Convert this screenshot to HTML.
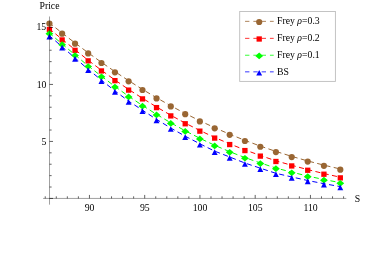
<!DOCTYPE html>
<html><head><meta charset="utf-8"><title>Price vs S</title>
<style>
html,body{margin:0;padding:0;background:#fff;}
svg{display:block;will-change:transform;}
text{font-family:"Liberation Serif",serif;font-size:9.75px;fill:#000;}
</style></head><body>
<svg width="382" height="259" viewBox="0 0 382 259">
<rect width="382" height="259" fill="#fff"/>
<polyline points="49.4,22.91 62.13,33.02 75.05,42.99 88.16,52.77 101.45,62.33 114.94,71.63 128.61,80.65 142.48,89.37 156.53,97.76 170.78,105.8 185.22,113.48 199.85,120.78 214.67,127.7 229.69,134.22 244.91,140.35 260.32,146.09 275.92,151.43 291.72,156.38 307.72,160.95 323.92,165.15 340.31,168.99" fill="none" stroke="#996633" stroke-width="1.0" stroke-dasharray="5.1 3.39" stroke-dashoffset="0.7"/>
<circle cx="49.4" cy="23.56" r="3.1" fill="#996633"/><circle cx="62.13" cy="33.67" r="3.1" fill="#996633"/><circle cx="75.05" cy="43.64" r="3.1" fill="#996633"/><circle cx="88.16" cy="53.42" r="3.1" fill="#996633"/><circle cx="101.45" cy="62.98" r="3.1" fill="#996633"/><circle cx="114.94" cy="72.28" r="3.1" fill="#996633"/><circle cx="128.61" cy="81.3" r="3.1" fill="#996633"/><circle cx="142.48" cy="90.02" r="3.1" fill="#996633"/><circle cx="156.53" cy="98.41" r="3.1" fill="#996633"/><circle cx="170.78" cy="106.45" r="3.1" fill="#996633"/><circle cx="185.22" cy="114.13" r="3.1" fill="#996633"/><circle cx="199.85" cy="121.43" r="3.1" fill="#996633"/><circle cx="214.67" cy="128.35" r="3.1" fill="#996633"/><circle cx="229.69" cy="134.87" r="3.1" fill="#996633"/><circle cx="244.91" cy="141" r="3.1" fill="#996633"/><circle cx="260.32" cy="146.74" r="3.1" fill="#996633"/><circle cx="275.92" cy="152.08" r="3.1" fill="#996633"/><circle cx="291.72" cy="157.03" r="3.1" fill="#996633"/><circle cx="307.72" cy="161.6" r="3.1" fill="#996633"/><circle cx="323.92" cy="165.8" r="3.1" fill="#996633"/><circle cx="340.31" cy="169.64" r="3.1" fill="#996633"/>
<polyline points="49.4,28.84 62.13,39.3 75.05,49.68 88.16,60.21 101.45,70.29 114.94,80 128.61,89.45 142.48,98.25 156.53,106.96 170.78,115.25 185.22,123.11 199.85,130.51 214.67,137.44 229.69,143.91 244.91,149.92 260.32,155.47 275.92,160.84 291.72,165.29 307.72,169.61 323.92,173.57 340.31,177.23" fill="none" stroke="#ff0000" stroke-width="1.0" stroke-dasharray="5.1 3.39" stroke-dashoffset="0.7"/>
<rect x="46.75" y="26.84" width="5.3" height="5.3" fill="#ff0000"/><rect x="59.48" y="37.3" width="5.3" height="5.3" fill="#ff0000"/><rect x="72.4" y="47.68" width="5.3" height="5.3" fill="#ff0000"/><rect x="85.51" y="58.21" width="5.3" height="5.3" fill="#ff0000"/><rect x="98.8" y="68.29" width="5.3" height="5.3" fill="#ff0000"/><rect x="112.29" y="78" width="5.3" height="5.3" fill="#ff0000"/><rect x="125.96" y="87.45" width="5.3" height="5.3" fill="#ff0000"/><rect x="139.83" y="96.25" width="5.3" height="5.3" fill="#ff0000"/><rect x="153.88" y="104.96" width="5.3" height="5.3" fill="#ff0000"/><rect x="168.13" y="113.25" width="5.3" height="5.3" fill="#ff0000"/><rect x="182.57" y="121.11" width="5.3" height="5.3" fill="#ff0000"/><rect x="197.2" y="128.51" width="5.3" height="5.3" fill="#ff0000"/><rect x="212.02" y="135.44" width="5.3" height="5.3" fill="#ff0000"/><rect x="227.04" y="141.91" width="5.3" height="5.3" fill="#ff0000"/><rect x="242.26" y="147.92" width="5.3" height="5.3" fill="#ff0000"/><rect x="257.67" y="153.47" width="5.3" height="5.3" fill="#ff0000"/><rect x="273.27" y="158.84" width="5.3" height="5.3" fill="#ff0000"/><rect x="289.07" y="163.29" width="5.3" height="5.3" fill="#ff0000"/><rect x="305.07" y="167.61" width="5.3" height="5.3" fill="#ff0000"/><rect x="321.27" y="171.57" width="5.3" height="5.3" fill="#ff0000"/><rect x="337.66" y="175.23" width="5.3" height="5.3" fill="#ff0000"/>
<polyline points="49.4,33.06 62.13,44 75.05,54.84 88.16,65.87 101.45,76.22 114.94,86.43 128.61,96.23 142.48,105.49 156.53,114.32 170.78,122.82 185.22,130.82 199.85,138.31 214.67,145.27 229.69,151.7 244.91,157.59 260.32,162.95 275.92,168.05 291.72,172.16 307.72,176.06 323.92,179.54 340.31,182.64" fill="none" stroke="#00ff00" stroke-width="1.0" stroke-dasharray="5.1 3.39" stroke-dashoffset="0.7"/>
<path d="M45.5 33.71L49.4 30.36L53.3 33.71L49.4 37.06Z" fill="#00ff00"/><path d="M58.23 44.65L62.13 41.3L66.03 44.65L62.13 48Z" fill="#00ff00"/><path d="M71.15 55.49L75.05 52.14L78.95 55.49L75.05 58.84Z" fill="#00ff00"/><path d="M84.26 66.52L88.16 63.17L92.06 66.52L88.16 69.87Z" fill="#00ff00"/><path d="M97.55 76.87L101.45 73.52L105.35 76.87L101.45 80.22Z" fill="#00ff00"/><path d="M111.04 87.08L114.94 83.73L118.84 87.08L114.94 90.43Z" fill="#00ff00"/><path d="M124.71 96.88L128.61 93.53L132.51 96.88L128.61 100.23Z" fill="#00ff00"/><path d="M138.58 106.14L142.48 102.79L146.38 106.14L142.48 109.49Z" fill="#00ff00"/><path d="M152.63 114.97L156.53 111.62L160.43 114.97L156.53 118.32Z" fill="#00ff00"/><path d="M166.88 123.47L170.78 120.12L174.68 123.47L170.78 126.82Z" fill="#00ff00"/><path d="M181.32 131.47L185.22 128.12L189.12 131.47L185.22 134.82Z" fill="#00ff00"/><path d="M195.95 138.96L199.85 135.61L203.75 138.96L199.85 142.31Z" fill="#00ff00"/><path d="M210.77 145.92L214.67 142.57L218.57 145.92L214.67 149.27Z" fill="#00ff00"/><path d="M225.79 152.35L229.69 149L233.59 152.35L229.69 155.7Z" fill="#00ff00"/><path d="M241.01 158.24L244.91 154.89L248.81 158.24L244.91 161.59Z" fill="#00ff00"/><path d="M256.42 163.6L260.32 160.25L264.22 163.6L260.32 166.95Z" fill="#00ff00"/><path d="M272.02 168.7L275.92 165.35L279.82 168.7L275.92 172.05Z" fill="#00ff00"/><path d="M287.82 172.81L291.72 169.46L295.62 172.81L291.72 176.16Z" fill="#00ff00"/><path d="M303.82 176.71L307.72 173.36L311.62 176.71L307.72 180.06Z" fill="#00ff00"/><path d="M320.02 180.19L323.92 176.84L327.82 180.19L323.92 183.54Z" fill="#00ff00"/><path d="M336.41 183.29L340.31 179.94L344.21 183.29L340.31 186.64Z" fill="#00ff00"/>
<polyline points="49.4,35.63 62.13,46.77 75.05,58.01 88.16,69.29 101.45,80.18 114.94,90.91 128.61,101.1 142.48,110.21 156.53,119.39 170.78,128.03 185.22,136.2 199.85,143.78 214.67,151.14 229.69,156.99 244.91,163.03 260.32,168.19 275.92,173.31 291.72,176.96 307.72,180.5 323.92,183.7 340.31,186.6" fill="none" stroke="#0000ff" stroke-width="1.0" stroke-dasharray="5.1 3.39" stroke-dashoffset="0.7"/>
<path d="M46.45 39.38L49.4 33.73L52.35 39.38Z" fill="#0000ff"/><path d="M59.18 50.52L62.13 44.87L65.08 50.52Z" fill="#0000ff"/><path d="M72.1 61.76L75.05 56.11L78 61.76Z" fill="#0000ff"/><path d="M85.21 73.04L88.16 67.39L91.11 73.04Z" fill="#0000ff"/><path d="M98.5 83.93L101.45 78.28L104.4 83.93Z" fill="#0000ff"/><path d="M111.99 94.66L114.94 89.01L117.89 94.66Z" fill="#0000ff"/><path d="M125.66 104.85L128.61 99.2L131.56 104.85Z" fill="#0000ff"/><path d="M139.53 113.96L142.48 108.31L145.43 113.96Z" fill="#0000ff"/><path d="M153.58 123.14L156.53 117.49L159.48 123.14Z" fill="#0000ff"/><path d="M167.83 131.78L170.78 126.13L173.73 131.78Z" fill="#0000ff"/><path d="M182.27 139.95L185.22 134.3L188.17 139.95Z" fill="#0000ff"/><path d="M196.9 147.53L199.85 141.88L202.8 147.53Z" fill="#0000ff"/><path d="M211.72 154.89L214.67 149.24L217.62 154.89Z" fill="#0000ff"/><path d="M226.74 160.74L229.69 155.09L232.64 160.74Z" fill="#0000ff"/><path d="M241.96 166.78L244.91 161.13L247.86 166.78Z" fill="#0000ff"/><path d="M257.37 171.94L260.32 166.29L263.27 171.94Z" fill="#0000ff"/><path d="M272.97 177.06L275.92 171.41L278.87 177.06Z" fill="#0000ff"/><path d="M288.77 180.71L291.72 175.06L294.67 180.71Z" fill="#0000ff"/><path d="M304.77 184.25L307.72 178.6L310.67 184.25Z" fill="#0000ff"/><path d="M320.97 187.45L323.92 181.8L326.87 187.45Z" fill="#0000ff"/><path d="M337.36 190.35L340.31 184.7L343.26 190.35Z" fill="#0000ff"/>
<g stroke="#000" stroke-width="0.38" fill="none"><line x1="43.1" y1="198.43" x2="346.3" y2="198.43"/><line x1="49.52" y1="16.5" x2="49.52" y2="204.65"/></g>
<g stroke="#000" stroke-width="0.62" fill="none"><line x1="45.24" y1="198.43" x2="45.24" y2="196.33"/><line x1="56.29" y1="198.43" x2="56.29" y2="196.33"/><line x1="67.34" y1="198.43" x2="67.34" y2="196.33"/><line x1="78.39" y1="198.43" x2="78.39" y2="196.33"/><line x1="89.44" y1="198.43" x2="89.44" y2="194.93"/><line x1="100.49" y1="198.43" x2="100.49" y2="196.33"/><line x1="111.54" y1="198.43" x2="111.54" y2="196.33"/><line x1="122.59" y1="198.43" x2="122.59" y2="196.33"/><line x1="133.64" y1="198.43" x2="133.64" y2="196.33"/><line x1="144.69" y1="198.43" x2="144.69" y2="194.93"/><line x1="155.74" y1="198.43" x2="155.74" y2="196.33"/><line x1="166.79" y1="198.43" x2="166.79" y2="196.33"/><line x1="177.84" y1="198.43" x2="177.84" y2="196.33"/><line x1="188.89" y1="198.43" x2="188.89" y2="196.33"/><line x1="199.94" y1="198.43" x2="199.94" y2="194.93"/><line x1="210.99" y1="198.43" x2="210.99" y2="196.33"/><line x1="222.04" y1="198.43" x2="222.04" y2="196.33"/><line x1="233.09" y1="198.43" x2="233.09" y2="196.33"/><line x1="244.14" y1="198.43" x2="244.14" y2="196.33"/><line x1="255.19" y1="198.43" x2="255.19" y2="194.93"/><line x1="266.24" y1="198.43" x2="266.24" y2="196.33"/><line x1="277.29" y1="198.43" x2="277.29" y2="196.33"/><line x1="288.34" y1="198.43" x2="288.34" y2="196.33"/><line x1="299.39" y1="198.43" x2="299.39" y2="196.33"/><line x1="310.44" y1="198.43" x2="310.44" y2="194.93"/><line x1="321.49" y1="198.43" x2="321.49" y2="196.33"/><line x1="332.54" y1="198.43" x2="332.54" y2="196.33"/><line x1="343.59" y1="198.43" x2="343.59" y2="196.33"/><line x1="49.52" y1="198.43" x2="53.02" y2="198.43"/><line x1="49.52" y1="187.03" x2="51.62" y2="187.03"/><line x1="49.52" y1="175.63" x2="51.62" y2="175.63"/><line x1="49.52" y1="164.23" x2="51.62" y2="164.23"/><line x1="49.52" y1="152.83" x2="51.62" y2="152.83"/><line x1="49.52" y1="141.43" x2="53.02" y2="141.43"/><line x1="49.52" y1="130.03" x2="51.62" y2="130.03"/><line x1="49.52" y1="118.63" x2="51.62" y2="118.63"/><line x1="49.52" y1="107.23" x2="51.62" y2="107.23"/><line x1="49.52" y1="95.83" x2="51.62" y2="95.83"/><line x1="49.52" y1="84.43" x2="53.02" y2="84.43"/><line x1="49.52" y1="73.03" x2="51.62" y2="73.03"/><line x1="49.52" y1="61.63" x2="51.62" y2="61.63"/><line x1="49.52" y1="50.23" x2="51.62" y2="50.23"/><line x1="49.52" y1="38.83" x2="51.62" y2="38.83"/><line x1="49.52" y1="27.43" x2="53.02" y2="27.43"/></g>
<text x="89.54" y="210.6" text-anchor="middle">90</text><text x="144.79" y="210.6" text-anchor="middle">95</text><text x="200.04" y="210.6" text-anchor="middle">100</text><text x="255.29" y="210.6" text-anchor="middle">105</text><text x="310.54" y="210.6" text-anchor="middle">110</text><text x="46.4" y="144.63" text-anchor="end">5</text><text x="46.4" y="87.63" text-anchor="end">10</text><text x="46.15" y="30.03" text-anchor="end">15</text><text x="49.5" y="8.7" text-anchor="middle">Price</text><text x="354.85" y="201.8">S</text>
<rect x="239.7" y="11.45" width="95.7" height="69.95" fill="#fff" stroke="#bdbdbd" stroke-width="0.9"/>
<line x1="245.05" y1="21.35" x2="273.7" y2="21.35" stroke="#996633" stroke-width="0.8" stroke-dasharray="4.35 3.95"/>
<circle cx="259.2" cy="22" r="3.1" fill="#996633"/>
<text x="277.05" y="24.4">Frey <tspan font-style="italic">ρ</tspan>=0.3</text>
<line x1="245.05" y1="38.35" x2="273.7" y2="38.35" stroke="#ff0000" stroke-width="0.8" stroke-dasharray="4.35 3.95"/>
<rect x="256.55" y="36.35" width="5.3" height="5.3" fill="#ff0000"/>
<text x="277.05" y="41.4">Frey <tspan font-style="italic">ρ</tspan>=0.2</text>
<line x1="245.05" y1="55.24" x2="273.7" y2="55.24" stroke="#00ff00" stroke-width="0.8" stroke-dasharray="4.35 3.95"/>
<path d="M255.3 55.89L259.2 52.54L263.1 55.89L259.2 59.24Z" fill="#00ff00"/>
<text x="277.05" y="58.29">Frey <tspan font-style="italic">ρ</tspan>=0.1</text>
<line x1="245.05" y1="71.85" x2="273.7" y2="71.85" stroke="#0000ff" stroke-width="0.8" stroke-dasharray="4.35 3.95"/>
<path d="M256.25 75.6L259.2 69.95L262.15 75.6Z" fill="#0000ff"/>
<text x="277.05" y="74.9">BS</text>
</svg></body></html>
